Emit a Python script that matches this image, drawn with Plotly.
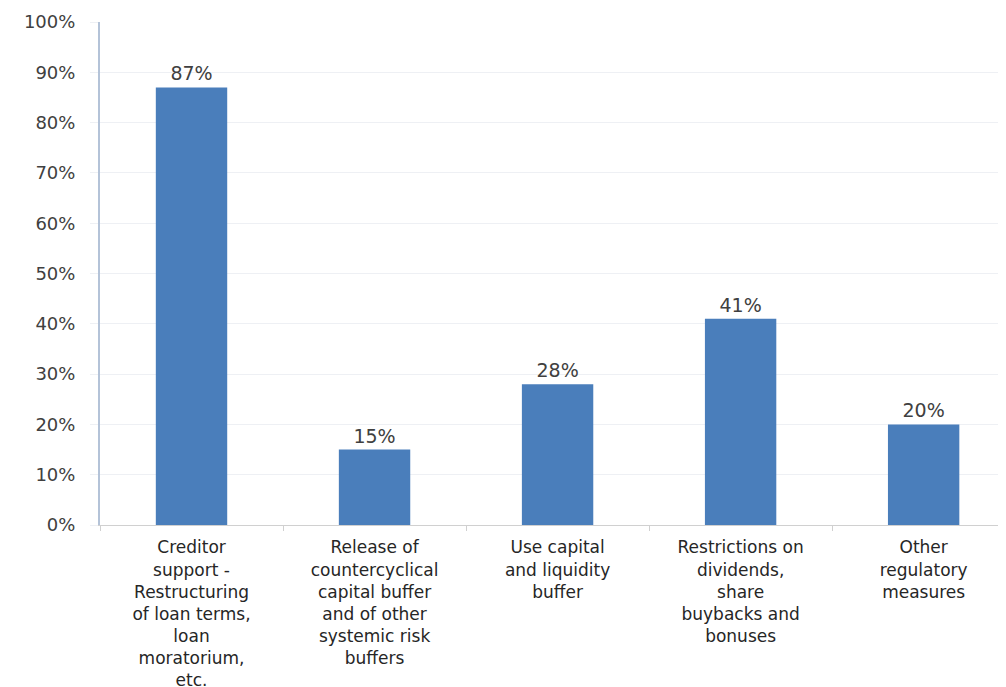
import plotly.graph_objects as go

categories = [
    "Creditor<br>support -<br>Restructuring<br>of loan terms,<br>loan<br>moratorium,<br>etc.",
    "Release of<br>countercyclical<br>capital buffer<br>and of other<br>systemic risk<br>buffers",
    "Use capital<br>and liquidity<br>buffer",
    "Restrictions on<br>dividends,<br>share<br>buybacks and<br>bonuses",
    "Other<br>regulatory<br>measures",
]
values = [87, 15, 28, 41, 20]
value_labels = ["87%", "15%", "28%", "41%", "20%"]
y_ticks = [0, 10, 20, 30, 40, 50, 60, 70, 80, 90, 100]
y_tick_labels = ["0%", "10%", "20%", "30%", "40%", "50%", "60%", "70%", "80%", "90%", "100%"]

FONT = "DejaVu Sans, Liberation Sans, Arial"

fig = go.Figure(
    go.Bar(
        x=categories,
        y=values,
        text=value_labels,
        textposition="outside",
        textfont=dict(family=FONT, size=19, color="#404040"),
        marker=dict(color="#4A7EBB", line=dict(width=0)),
        width=0.39,
        cliponaxis=False,
    )
)

# The page adds an 8px body margin, so the figure is sized to fit the window.
fig.update_layout(
    width=998,
    height=679,
    margin=dict(l=92, r=0, t=14, b=162, autoexpand=False),
    paper_bgcolor="white",
    plot_bgcolor="white",
    showlegend=False,
    font=dict(family=FONT, size=18, color="#404040"),
)

fig.update_xaxes(
    automargin=False,
    range=[-0.5, 4.45],
    showgrid=False,
    showline=True,
    linecolor="#D0D0D0",
    linewidth=1,
    ticks="outside",
    tickson="boundaries",
    ticklen=5,
    tickcolor="#D0D0D0",
    tickangle=0,
    ticklabelstandoff=7,
    tickfont=dict(family=FONT, size=17, color="#262626"),
)

fig.update_yaxes(
    automargin=False,
    range=[0, 100],
    tickmode="array",
    tickvals=y_ticks,
    ticktext=y_tick_labels,
    showgrid=True,
    gridcolor="#EEF0F4",
    gridwidth=1,
    showline=True,
    linecolor="#B4C3D8",
    linewidth=2,
    ticks="outside",
    ticklen=8,
    tickcolor="#EEF0F4",
    ticklabelstandoff=11,
    zeroline=False,
    tickfont=dict(family=FONT, size=18, color="#404040"),
)

fig.write_html("out.html")
